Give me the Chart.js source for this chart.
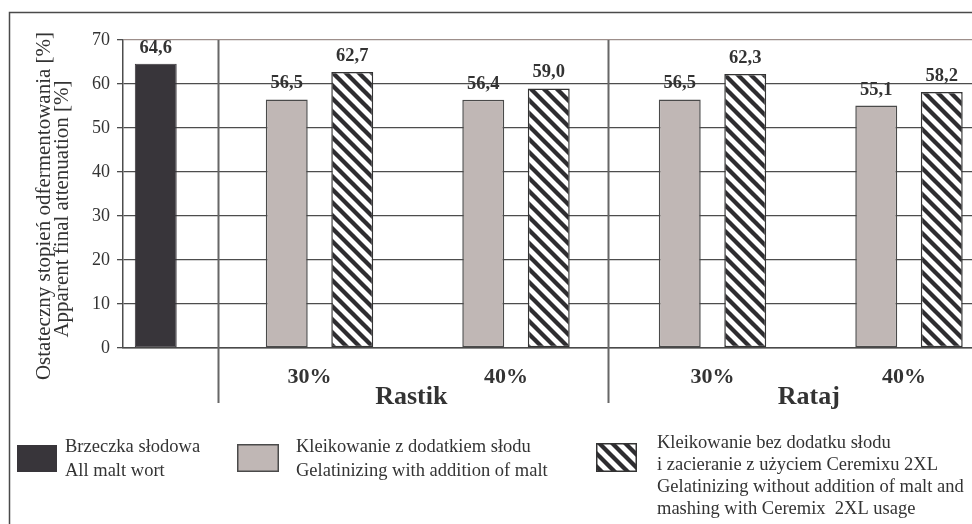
<!DOCTYPE html>
<html><head><meta charset="utf-8">
<script src="https://cdn.jsdelivr.net/npm/chart.js@4.4.1/dist/chart.umd.min.js"></script>
<style>html,body{margin:0;padding:0;overflow:hidden;background:#fff;width:972px;height:524px}canvas{display:block}</style>
</head><body><canvas id="c" width="976" height="524"></canvas>
<script>
// ---- data ----
const varieties = ['Rastik', 'Rataj'];
const doses = ['30%', '40%', '30%', '40%'];
const allMaltWort = [64.6];
const withMalt = [56.5, 56.4, 56.5, 55.1];
const ceremix = [62.7, 59.0, 62.3, 58.2];
const yTicks = [0, 10, 20, 30, 40, 50, 60, 70];
const seriesNames = [
  ['Brzeczka słodowa', 'All malt wort'],
  ['Kleikowanie z dodatkiem słodu', 'Gelatinizing with addition of malt'],
  ['Kleikowanie bez dodatku słodu', 'i zacieranie z użyciem Ceremixu 2XL', 'Gelatinizing without addition of malt and', 'mashing with Ceremix  2XL usage']
];
const yTitle = ['Ostateczny stopień odfermentowania [%]', 'Apparent final attenuation [%]'];

// ---- slot layout (one empty slot between groups) ----
const nSlots = 1 + withMalt.length * 3;
const slotLabels = Array.from({length: nSlots}, (_, i) => String(i));
const blackData = new Array(nSlots).fill(null);
const grayData = new Array(nSlots).fill(null);
const hatchData = new Array(nSlots).fill(null);
blackData[0] = allMaltWort[0];
withMalt.forEach((v, i) => { grayData[2 + 3 * i] = v; });
ceremix.forEach((v, i) => { hatchData[3 + 3 * i] = v; });

const canvas = document.getElementById('c');
const ctx0 = canvas.getContext('2d');
function makeHatch(s, lw) {
  const c = document.createElement('canvas'); c.width = s; c.height = s;
  const g = c.getContext('2d');
  g.fillStyle = '#fff'; g.fillRect(0, 0, s, s);
  g.strokeStyle = '#2e2d30'; g.lineWidth = lw;
  for (const k of [-1, 0, 1]) {
    g.beginPath(); g.moveTo(k * s - 2, -2); g.lineTo(k * s + s + 2, s + 2); g.stroke();
  }
  return ctx0.createPattern(c, 'repeat');
}
const hatch = makeHatch(13, 4.3);

const TXT = '#333';
const SERIF = '"Liberation Serif", "Times New Roman", serif';
const BLACK = '#38353a', GRAY = '#c0b7b5', EDGE = '#4a4a4a';

const decor = {
  id: 'decor',
  afterDatasetsDraw(chart) {
    const ctx = chart.ctx;
    ctx.save();
    ctx.fillStyle = TXT;
    ctx.font = 'bold 18.5px ' + SERIF;
    ctx.textAlign = 'center'; ctx.textBaseline = 'alphabetic';
    chart.data.datasets.forEach((ds, di) => {
      const meta = chart.getDatasetMeta(di);
      meta.data.forEach((el, i) => {
        const v = ds.data[i];
        if (v === null || v === undefined) return;
        ctx.fillText(v.toFixed(1).replace('.', ','), el.x, el.y - 11);
      });
    });
    ctx.restore();
  },
  afterDraw(chart) {
    const ctx = chart.ctx, x = chart.scales.x, a = chart.chartArea;
    ctx.save();
    // outer frame (top and left)
    ctx.strokeStyle = '#4a4a4a'; ctx.lineWidth = 1.5;
    ctx.beginPath(); ctx.moveTo(9.5, 524); ctx.lineTo(9.5, 12.5); ctx.lineTo(976, 12.5); ctx.stroke();
    // group dividers
    ctx.strokeStyle = '#676767'; ctx.lineWidth = 2;
    [0.95, 6.905].forEach(v => {
      const px = Math.round(x.getPixelForValue(v)) + 0.5;
      ctx.beginPath(); ctx.moveTo(px, a.top); ctx.lineTo(px, 403); ctx.stroke();
    });
    // category labels
    ctx.fillStyle = TXT; ctx.textAlign = 'center'; ctx.textBaseline = 'alphabetic';
    const doseShift = [-10, -10, 0, -5];
    ctx.font = 'bold 22px ' + SERIF;
    doses.forEach((d, i) => {
      const cx = (x.getPixelForValue(2 + 3 * i) + x.getPixelForValue(3 + 3 * i)) / 2 + doseShift[i];
      ctx.fillText(d, cx, 383);
    });
    const varShift = [-6.5, -2];
    ctx.font = 'bold 26px ' + SERIF;
    varieties.forEach((vn, j) => {
      const c1 = (x.getPixelForValue(2 + 6 * j) + x.getPixelForValue(3 + 6 * j)) / 2;
      const c2 = (x.getPixelForValue(5 + 6 * j) + x.getPixelForValue(6 + 6 * j)) / 2;
      ctx.fillText(vn, (c1 + c2) / 2 + varShift[j], 404);
    });
    // y title
    ctx.font = '21px ' + SERIF;
    ctx.save(); ctx.translate(50, 206); ctx.rotate(-Math.PI / 2); ctx.fillText(yTitle[0], 0, 0); ctx.restore();
    ctx.save(); ctx.translate(68, 209); ctx.rotate(-Math.PI / 2); ctx.fillText(yTitle[1], 0, 0); ctx.restore();
    // legend
    ctx.fillStyle = BLACK; ctx.fillRect(17, 445, 40, 27);
    ctx.fillStyle = GRAY; ctx.fillRect(237, 444, 42, 28);
    ctx.strokeStyle = EDGE; ctx.lineWidth = 1.5; ctx.strokeRect(237.75, 444.75, 40.5, 26.5);
    ctx.fillStyle = hatch; ctx.fillRect(596, 443, 41, 29);
    ctx.strokeStyle = '#333'; ctx.strokeRect(596.75, 443.75, 39.5, 27.5);
    ctx.fillStyle = TXT; ctx.textAlign = 'left'; ctx.font = '18.5px ' + SERIF;
    seriesNames[0].forEach((t, i) => ctx.fillText(t, 65, 452 + 24 * i));
    seriesNames[1].forEach((t, i) => ctx.fillText(t, 296, 452 + 24 * i));
    seriesNames[2].forEach((t, i) => ctx.fillText(t, 657, 448 + 22 * i));
    ctx.restore();
  }
};

new Chart(canvas, {
  type: 'bar',
  data: {
    labels: slotLabels,
    datasets: [
      { label: seriesNames[0][0], data: blackData, backgroundColor: BLACK, borderColor: BLACK, borderWidth: 1 },
      { label: seriesNames[1][0], data: grayData, backgroundColor: GRAY, borderColor: EDGE, borderWidth: 1.5 },
      { label: seriesNames[2][0], data: hatchData, backgroundColor: hatch, borderColor: '#333', borderWidth: 1.5 }
    ]
  },
  options: {
    responsive: false,
    animation: false,
    devicePixelRatio: 1,
    layout: { padding: { top: 40, right: 1.5, left: 0, bottom: 0 } },
    datasets: { bar: { grouped: false, barPercentage: 0.64, categoryPercentage: 1, borderSkipped: false, skipNull: true } },
    plugins: { legend: { display: false }, tooltip: { enabled: false } },
    scales: {
      x: {
        type: 'category',
        ticks: { display: false },
        grid: { display: false, drawTicks: false },
        border: { display: true, color: '#4a4a4a', width: 1.5 },
        afterFit: s => { s.height = 524 - 348; }
      },
      y: {
        min: 0, max: 70,
        afterBuildTicks: s => { s.ticks = yTicks.map(v => ({ value: v })); },
        ticks: { font: { family: SERIF, size: 18 }, color: TXT, padding: 7 },
        grid: {
          color: c => (c.tick && c.tick.value === 70) ? '#9d8f8b' : '#4d4d4d',
          tickColor: '#4d4d4d', lineWidth: 1.3, tickLength: 6
        },
        border: { display: true, color: '#4d4d4d', width: 1.5 },
        afterFit: s => { s.width = 123; }
      }
    }
  },
  plugins: [decor]
});
</script>
</body></html>
